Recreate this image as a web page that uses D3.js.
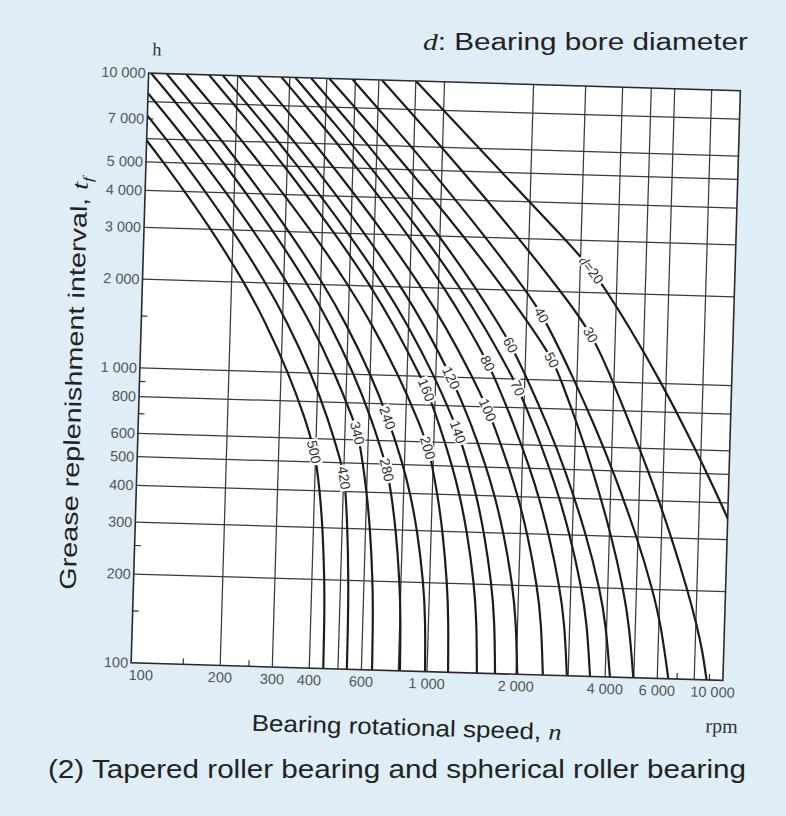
<!DOCTYPE html>
<html><head><meta charset="utf-8">
<script src="https://cdn.jsdelivr.net/npm/d3@7"></script>
<style>
body{margin:0;background:#dfeef6;}
svg{display:block}
</style></head>
<body><svg id="c" width="786" height="816"></svg>
<script>
// ---- data ----
const diameters = [20,30,40,50,60,70,80,100,120,140,160,200,240,280,340,420,500];
// each curve: [rotational speed rpm, replenishment interval h]
const curvePoints = [
  [[800,10000],[1142,7000],[1596,5000],[2652,3000],[3330,2385],[4536,1500],[5800,1000],[7072,700],[8440,500],[9438,400],[10820,300]],
  [[614,10000],[860,7000],[1175,5000],[1850,3000],[2598,2000],[3363,1437],[3972,1000],[4647,700],[5343,500],[5834,400],[6497,300],[7452,200],[8105,150],[8476,125],[8807,100]],
  [[488,10000],[680,7000],[922,5000],[1431,3000],[1976,2000],[2270,1660],[2950,1000],[3497,700],[4060,500],[4963,300],[5669,200],[6118,150],[6541,100]],
  [[408,10000],[570,7000],[774,5000],[1208,3000],[1678,2000],[2084,1500],[2479,1171],[2653,1000],[3063,700],[3465,500],[4072,300],[4511,200],[4770,150],[4980,100]],
  [[354,10000],[489,7000],[656,5000],[997,3000],[1347,2000],[1633,1500],[1782,1303],[2043,1000],[2420,700],[2791,500],[3352,300],[3752,200],[3979,150],[4152,100]],
  [[313,10000],[432,7000],[580,5000],[881,3000],[1190,2000],[1442,1500],[1831,1000],[1900,933],[2164,700],[2480,500],[2688,400],[2944,300],[3261,200],[3434,150],[3556,100]],
  [[281,10000],[387,7000],[518,5000],[782,3000],[1049,2000],[1265,1500],[1496,1125],[1585,1000],[1860,700],[2123,500],[2293,400],[2500,300],[2750,200],[2883,150],[2970,100]],
  [[234,10000],[323,7000],[432,5000],[653,3000],[878,2000],[1060,1500],[1338,1000],[1512,781],[1585,700],[1807,500],[1948,400],[2116,300],[2309,200],[2405,150],[2463,100]],
  [[202,10000],[278,7000],[372,5000],[560,3000],[749,2000],[902,1500],[1136,994],[1330,700],[1512,500],[1626,400],[1759,300],[1907,200],[1977,150],[2017,100]],
  [[178,10000],[245,7000],[327,5000],[492,3000],[658,2000],[791,1500],[992,1000],[1171,700],[1205,653],[1320,500],[1409,400],[1510,300],[1621,200],[1672,150],[1698,100]],
  [[160,10000],[220,7000],[294,5000],[441,3000],[590,2000],[709,1500],[888,1000],[935,900],[1034,700],[1161,500],[1237,400],[1323,300],[1414,200],[1454,150],[1474,100]],
  [[134,10000],[184.5,7000],[246,5000],[371,3000],[497,2000],[598,1500],[750,1000],[886,700],[960,573],[992,500],[1041,400],[1094,300],[1146,200],[1168,150],[1178,100]],
  [[115,10000],[157.5,7000],[209,5000],[310.5,3000],[410,2000],[488.5,1500],[604,1000],[697,717],[791,500],[842,400],[898,300],[953,200],[976,150],[985,100]],
  [[102,10000],[139.6,7000],[185,5000],[274,3000],[361,2000],[430,1500],[530,1000],[616,700],[691,500],[700,478],[726,400],[760,300],[792,200],[805,150],[810,100]],
  [[87,10000],[119.2,7000],[158,5000],[235,3000],[310,2000],[370,1500],[457,1000],[532.5,700],[553,633],[579,500],[600,400],[622,300],[642,200],[649,150],[652,100]],
  [[75,10000],[102.4,7000],[135.3,5000],[199.3,3000],[261,2000],[309,1500],[379,1000],[438,700],[489,500],[505,445],[521.5,300],[531.6,200],[534.8,150],[536,100]],
  [[64,10000],[87.2,7000],[115,5000],[168.9,3000],[220.5,2000],[260,1500],[317.5,1000],[365.8,700],[398,541],[416.6,400],[429.7,300],[441,200],[444.8,150],[446,100]]
];
const labelAt = [2385,1437,1660,1171,1303,933,1125,781,994,653,900,573,717,478,633,445,541];
const xTicks = [100,200,300,400,600,1000,2000,4000,6000,10000];
const xTickText = ["100","200","300","400","600","1 000","2 000","4 000","6 000","10 000"];
const xGrid = [200,300,400,500,600,800,1000,2000,3000,4000,5000,6000,8000];
const xMinor = [150,250,7000,9000];
const yTicks = [10000,7000,5000,4000,3000,2000,1000,800,600,500,400,300,200,100];
const yTickText = ["10 000","7 000","5 000","4 000","3 000","2 000","1 000","800","600","500","400","300","200","100"];
const yGrid = [8000,6000,5000,4000,3000,2000,1000,800,600,500,400,300,200];
const yMinor = [7000,1500,900,700,250,150];

// ---- drawing ----
const svg = d3.select('#c');
const L=139.75, R=731.75, T=81.75, B=671.75;
const g = svg.append('g').attr('transform','rotate(1.7,435.75,376.75)');
const x = d3.scaleLog().domain([100,10000]).range([L,R]);
const y = d3.scaleLog().domain([100,10000]).range([B,T]);
const sans = 'Liberation Sans, Arial, sans-serif';
const serif = 'Liberation Serif, Times New Roman, serif';

g.append('rect').attr('x',L).attr('y',T).attr('width',R-L).attr('height',B-T).attr('fill','#fff');
svg.append('defs').append('clipPath').attr('id','clip')
  .append('rect').attr('x',L).attr('y',T).attr('width',R-L).attr('height',B-T);

const grid = g.append('g').attr('stroke','#3a3a3a').attr('stroke-width',1.25);
grid.selectAll('.vx').data(xGrid).join('line')
  .attr('x1',d=>x(d)).attr('x2',d=>x(d)).attr('y1',T).attr('y2',B);
grid.selectAll('.hy').data(yGrid).join('line')
  .attr('y1',d=>y(d)).attr('y2',d=>y(d)).attr('x1',L).attr('x2',R);

const minor = g.append('g').attr('stroke','#333').attr('stroke-width',1.2);
minor.selectAll('.mx').data(xMinor).join('line')
  .attr('x1',d=>x(d)).attr('x2',d=>x(d)).attr('y1',B).attr('y2',B-6);
minor.selectAll('.my').data(yMinor).join('line')
  .attr('y1',d=>y(d)).attr('y2',d=>y(d)).attr('x1',L).attr('x2',L+6);

const line = d3.line().x(d=>x(d[0])).y(d=>y(d[1])).curve(d3.curveBasis);
const curves = g.append('g').attr('clip-path','url(#clip)');
const paths = curvePoints.map(pts=>curves.append('path').attr('d',line(pts)).attr('fill','none')
    .attr('stroke','#1c1c1c').attr('stroke-width',2.2).node());

g.append('rect').attr('x',L).attr('y',T).attr('width',R-L).attr('height',B-T)
  .attr('fill','none').attr('stroke','#2a2a2a').attr('stroke-width',1.6);

// curve labels
const labs = g.append('g');
paths.forEach((p,i)=>{
  const ty = y(labelAt[i]);
  const len = p.getTotalLength();
  let lo=0, hi=len;
  for(let k=0;k<40;k++){const m=(lo+hi)/2; if(p.getPointAtLength(m).y<ty) lo=m; else hi=m;}
  const pt = p.getPointAtLength(lo);
  const a = p.getPointAtLength(Math.max(0,lo-10)), b = p.getPointAtLength(Math.min(len,lo+10));
  const ang = Math.atan2(b.y-a.y,b.x-a.x)*180/Math.PI;
  const lg = labs.append('g').attr('transform',`translate(${pt.x},${pt.y}) rotate(${ang})`);
  const t = lg.append('text').attr('text-anchor','middle').attr('dy','0.35em')
    .attr('font-family',sans).attr('font-size',14).attr('fill','#333');
  if(i===0){ t.append('tspan').attr('font-family',serif).attr('font-style','italic').text('d'); t.append('tspan').text('='+diameters[i]); }
  else t.text(diameters[i]);
  const bb = t.node().getBBox();
  lg.insert('rect','text').attr('x',bb.x-1.5).attr('y',bb.y+2).attr('width',bb.width+3).attr('height',bb.height-4).attr('fill','#fff');
});

// tick labels
g.selectAll('.xl').data(xTicks).join('text')
  .attr('x',(d,i)=>x(d)+(i===0?10:(i===xTicks.length-1?-10:0))).attr('y',B+17)
  .attr('text-anchor','middle').attr('font-family',sans).attr('font-size',14.5).attr('fill','#555')
  .text((d,i)=>xTickText[i]);
g.selectAll('.yl').data(yTicks).join('text')
  .attr('x',L-3).attr('y',d=>y(d)).attr('dy','0.35em')
  .attr('text-anchor','end').attr('font-family',sans).attr('font-size',14.5).attr('fill','#555')
  .text((d,i)=>yTickText[i]);

g.append('text').attr('x',L+3).attr('y',T-18).attr('font-family',serif)
  .attr('font-size',18).attr('fill','#333').text('h');
g.append('text').attr('x',748).attr('y',724).attr('text-anchor','end').attr('font-family',serif)
  .attr('font-size',20).attr('fill','#333').text('rpm');

const xt = g.append('text').attr('x',417).attr('y',736).attr('text-anchor','middle')
  .attr('font-family',sans).attr('font-size',23).attr('fill','#222')
  .attr('textLength',310).attr('lengthAdjust','spacingAndGlyphs');
xt.append('tspan').text('Bearing rotational speed, ');
xt.append('tspan').attr('font-family',serif).attr('font-style','italic').text('n');

const yt = g.append('text').attr('transform','translate(82,394) rotate(-90)').attr('text-anchor','middle')
  .attr('font-family',sans).attr('font-size',23).attr('fill','#222')
  .attr('textLength',413).attr('lengthAdjust','spacingAndGlyphs');
yt.append('tspan').text('Grease replenishment interval, ');
yt.append('tspan').attr('font-family',serif).attr('font-style','italic').text('t');
yt.append('tspan').attr('font-family',serif).attr('font-style','italic').attr('font-size',14).attr('dy',5).text('f');

const tt = svg.append('text').attr('x',748).attr('y',50).attr('text-anchor','end')
  .attr('font-family',sans).attr('font-size',23).attr('fill','#222')
  .attr('textLength',325).attr('lengthAdjust','spacingAndGlyphs');
tt.append('tspan').attr('font-family',serif).attr('font-style','italic').text('d');
tt.append('tspan').text(': Bearing bore diameter');

svg.append('text').attr('x',48).attr('y',778).attr('font-family',sans).attr('font-size',25).attr('fill','#222')
  .attr('textLength',698).attr('lengthAdjust','spacingAndGlyphs')
  .text('(2) Tapered roller bearing and spherical roller bearing');
</script></body></html>
